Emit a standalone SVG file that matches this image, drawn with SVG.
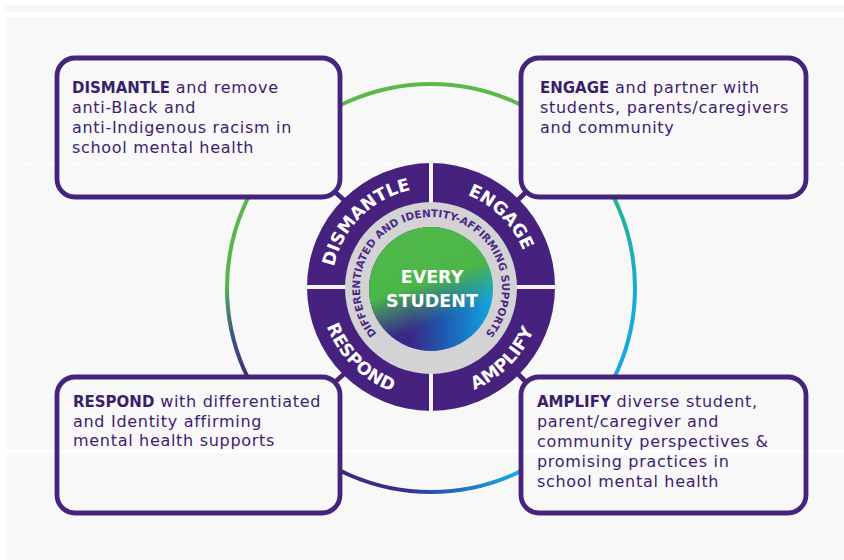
<svg xmlns="http://www.w3.org/2000/svg" width="844" height="560" viewBox="0 0 844 560">
  <style>
    .box { fill: none; stroke: #46237d; stroke-width: 4.8; }
    .stub { stroke: #46237d; stroke-width: 4.8; stroke-linecap: round; }
    .copy { font-family: "DejaVu Sans", "Liberation Sans", sans-serif; font-size: 16px; letter-spacing: 0.7px; fill: #3d2270; }
    .copy .b { font-weight: bold; font-size: 15px; letter-spacing: 0px; fill: #3a1e6c; }
    .ring { fill: none; stroke-width: 4; }
    .band { font-family: "DejaVu Sans", "Liberation Sans", sans-serif; font-size: 17.5px; font-weight: bold; fill: #ffffff; }
    .arcTxt { font-family: "DejaVu Sans", "Liberation Sans", sans-serif; font-size: 10.5px; font-weight: bold; fill: #4a2a85; }
    .core { font-family: "DejaVu Sans", "Liberation Sans", sans-serif; font-size: 17.5px; font-weight: bold; fill: #ffffff; text-anchor: middle; }
    .gap { stroke: #f4f4f6; stroke-width: 4; }
  </style>
  <defs>
    <linearGradient id="gRight" gradientUnits="userSpaceOnUse" x1="0" y1="150" x2="0" y2="430">
      <stop offset="0" stop-color="#45b85c"/>
      <stop offset="0.2" stop-color="#21b39a"/>
      <stop offset="0.55" stop-color="#18a9dc"/>
      <stop offset="1" stop-color="#1aa6e2"/>
    </linearGradient>
    <linearGradient id="gBottom" gradientUnits="userSpaceOnUse" x1="340" y1="0" x2="521" y2="0">
      <stop offset="0" stop-color="#3e2882"/>
      <stop offset="0.35" stop-color="#3a2d8a"/>
      <stop offset="0.6" stop-color="#2366bb"/>
      <stop offset="1" stop-color="#17ade2"/>
    </linearGradient>
    <linearGradient id="gLeft" gradientUnits="userSpaceOnUse" x1="0" y1="190" x2="0" y2="380">
      <stop offset="0" stop-color="#5bb947"/>
      <stop offset="0.5" stop-color="#54b54a"/>
      <stop offset="0.75" stop-color="#3b5c7e"/>
      <stop offset="1" stop-color="#3d2a80"/>
    </linearGradient>
    <linearGradient id="coreBase" x1="0" y1="0" x2="1" y2="0">
      <stop offset="0" stop-color="#3b2784"/>
      <stop offset="0.35" stop-color="#3a2a88"/>
      <stop offset="0.62" stop-color="#1d5cb2"/>
      <stop offset="1" stop-color="#12a8e2"/>
    </linearGradient>
    <linearGradient id="coreGreen" x1="0.3" y1="0.05" x2="0.6" y2="0.95">
      <stop offset="0" stop-color="#4fb848" stop-opacity="1"/>
      <stop offset="0.45" stop-color="#4cb64a" stop-opacity="1"/>
      <stop offset="0.8" stop-color="#3aa870" stop-opacity="0"/>
    </linearGradient>
    <mask id="outsideBoxes">
      <rect width="844" height="560" fill="#ffffff"/>
      <rect x="57" y="58" width="283" height="139" rx="18" fill="#000000"/>
      <rect x="521" y="58" width="285" height="139" rx="18" fill="#000000"/>
      <rect x="57" y="377" width="283" height="136" rx="18" fill="#000000"/>
      <rect x="521" y="377" width="285" height="136" rx="18" fill="#000000"/>
    </mask>
    <!-- label baselines inside the purple band -->
    <path id="pDismantle" d="M332,287 A99,99 0 0 1 431,188"/>
    <path id="pEngage" d="M431,188 A99,99 0 0 1 530,287"/>
    <path id="pRespond" d="M319.5,287 A111.5,111.5 0 0 0 431,398.5"/>
    <path id="pAmplify" d="M431,398.5 A111.5,111.5 0 0 0 542.5,287"/>
    <!-- full circle starting at the bottom, running clockwise -->
    <path id="pSupports" d="M431,359 A71,71 0 1 1 431,217 A71,71 0 1 1 431,359"/>
  </defs>

  <!-- page -->
  <rect width="844" height="560" fill="#ffffff"/>
  <rect x="5" y="5" width="839" height="7" fill="#f6f6f6"/>
  <rect x="7" y="17" width="837" height="543" fill="#f8f8f8"/>
  <line x1="0" y1="164" x2="844" y2="164" stroke="#ffffff" stroke-width="2" stroke-dasharray="5 7" opacity="0.8"/>
  <rect x="0" y="450" width="844" height="3" fill="#ffffff"/>

  <!-- outer ring joining the four boxes -->
  <g id="connectors" mask="url(#outsideBoxes)">
    <path class="ring" stroke="#5bb947" d="M286.75,143.75 A204,204 0 0 1 575.25,143.75"/>
    <path class="ring" stroke="url(#gRight)" d="M575.25,143.75 A204,204 0 0 1 575.25,432.25"/>
    <path class="ring" stroke="url(#gBottom)" d="M575.25,432.25 A204,204 0 0 1 286.75,432.25"/>
    <path class="ring" stroke="url(#gLeft)" d="M286.75,432.25 A204,204 0 0 1 286.75,143.75"/>
    <line class="stub" x1="334.7" y1="191.7" x2="344" y2="200"/>
    <line class="stub" x1="526.3" y1="191.7" x2="518" y2="200"/>
    <line class="stub" x1="334.7" y1="382.3" x2="344" y2="374"/>
    <line class="stub" x1="526.3" y1="382.3" x2="518" y2="374"/>
  </g>

  <g id="box-dismantle">
    <rect class="box" x="57" y="58" width="283" height="139" rx="18"/>
    <text class="copy">
      <tspan x="72" y="93"><tspan class="b">DISMANTLE</tspan> and remove</tspan>
      <tspan x="72" y="113">anti-Black and</tspan>
      <tspan x="72" y="133">anti-Indigenous racism in</tspan>
      <tspan x="72" y="153">school mental health</tspan>
    </text>
  </g>

  <g id="box-engage">
    <rect class="box" x="521" y="58" width="285" height="139" rx="18"/>
    <text class="copy">
      <tspan x="540" y="93"><tspan class="b">ENGAGE</tspan> and partner with</tspan>
      <tspan x="540" y="113">students, parents/caregivers</tspan>
      <tspan x="540" y="133">and community</tspan>
    </text>
  </g>

  <g id="box-respond">
    <rect class="box" x="57" y="377" width="283" height="136" rx="18"/>
    <text class="copy">
      <tspan x="73" y="407"><tspan class="b">RESPOND</tspan> with differentiated</tspan>
      <tspan x="73" y="427">and Identity affirming</tspan>
      <tspan x="73" y="446">mental health supports</tspan>
    </text>
  </g>

  <g id="box-amplify">
    <rect class="box" x="521" y="377" width="285" height="136" rx="18"/>
    <text class="copy">
      <tspan x="537" y="407"><tspan class="b">AMPLIFY</tspan> diverse student,</tspan>
      <tspan x="537" y="427">parent/caregiver and</tspan>
      <tspan x="537" y="447">community perspectives &amp;</tspan>
      <tspan x="537" y="467">promising practices in</tspan>
      <tspan x="537" y="487">school mental health</tspan>
    </text>
  </g>

  <!-- central wheel -->
  <g id="wheel">
    <circle cx="431" cy="287" r="124" fill="#46227e"/>
    <line class="gap" x1="431" y1="160" x2="431" y2="414"/>
    <line class="gap" x1="304" y1="287" x2="558" y2="287"/>
    <circle cx="431" cy="288" r="86" fill="#d3d3d6"/>
    <text class="band" text-anchor="middle"><textPath href="#pDismantle" startOffset="50%">DISMANTLE</textPath></text>
    <text class="band" text-anchor="middle"><textPath href="#pEngage" startOffset="50%">ENGAGE</textPath></text>
    <text class="band" text-anchor="middle"><textPath href="#pRespond" startOffset="50%">RESPOND</textPath></text>
    <text class="band" text-anchor="middle"><textPath href="#pAmplify" startOffset="50%">AMPLIFY</textPath></text>
    <text class="arcTxt" text-anchor="middle"><textPath href="#pSupports" startOffset="50%">DIFFERENTIATED AND IDENTITY-AFFIRMING SUPPORTS</textPath></text>
  </g>

  <g id="every-student">
    <circle cx="431" cy="289" r="62" fill="url(#coreBase)"/>
    <circle cx="431" cy="289" r="62" fill="url(#coreGreen)"/>
    <text class="core" x="432" y="283">EVERY</text>
    <text class="core" x="432" y="307">STUDENT</text>
  </g>
</svg>
